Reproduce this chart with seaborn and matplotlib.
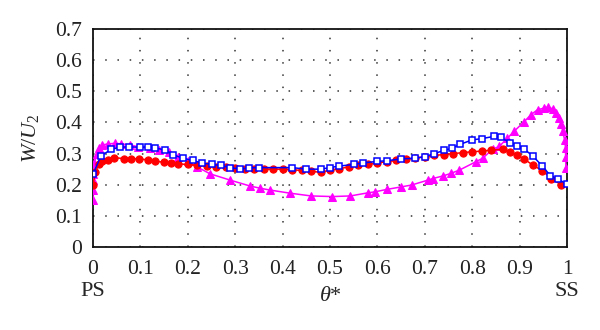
import matplotlib
matplotlib.use("Agg")
import matplotlib.pyplot as plt
import seaborn as sns
import pandas as pd

# ---- data ----
red_x = [0.0, 0.005, 0.012, 0.02, 0.032, 0.045, 0.065, 0.08, 0.096, 0.115, 0.13, 0.15, 0.165, 0.18,
         0.2, 0.22, 0.24, 0.26, 0.28, 0.3, 0.32, 0.34, 0.36, 0.38, 0.4, 0.42, 0.44, 0.46, 0.48,
         0.5, 0.52, 0.54, 0.56, 0.58, 0.6, 0.62, 0.64, 0.66, 0.68, 0.7, 0.72, 0.74, 0.76, 0.78,
         0.8, 0.82, 0.84, 0.865, 0.88, 0.894, 0.91, 0.928, 0.948, 0.967, 0.987]
red_y = [0.20, 0.24, 0.265, 0.275, 0.28, 0.287, 0.284, 0.284, 0.283, 0.28, 0.276, 0.272, 0.27, 0.267,
         0.265, 0.262, 0.26, 0.258, 0.256, 0.254, 0.252, 0.251, 0.25, 0.25, 0.25, 0.248, 0.246, 0.243, 0.24,
         0.247, 0.252, 0.257, 0.262, 0.266, 0.27, 0.274, 0.278, 0.282, 0.286, 0.29, 0.294, 0.297, 0.30, 0.303,
         0.306, 0.308, 0.311, 0.314, 0.305, 0.296, 0.282, 0.263, 0.245, 0.22, 0.20]

blue_x = [0.0, 0.017, 0.039, 0.057, 0.075, 0.1, 0.115, 0.13, 0.152, 0.169, 0.19, 0.21, 0.23, 0.25,
          0.27, 0.29, 0.31, 0.33, 0.35, 0.42, 0.45, 0.48, 0.5, 0.52, 0.55, 0.57, 0.6, 0.62, 0.65,
          0.68, 0.7, 0.72, 0.74, 0.757, 0.775, 0.8, 0.82, 0.845, 0.86, 0.88, 0.895, 0.91, 0.928,
          0.948, 0.965, 0.982, 1.0]
blue_y = [0.234, 0.293, 0.314, 0.32, 0.322, 0.32, 0.322, 0.318, 0.312, 0.296, 0.285, 0.278, 0.27, 0.265,
          0.262, 0.255, 0.25, 0.254, 0.255, 0.255, 0.25, 0.25, 0.255, 0.26, 0.265, 0.27, 0.275, 0.277, 0.283,
          0.285, 0.29, 0.30, 0.31, 0.317, 0.33, 0.344, 0.348, 0.355, 0.352, 0.335, 0.325, 0.314, 0.292,
          0.26, 0.229, 0.217, 0.202]

mag_x = [0.0, 0.0, 0.0, 0.0, 0.003, 0.008, 0.013, 0.02, 0.032, 0.046, 0.06, 0.078, 0.095, 0.12, 0.14,
         0.16, 0.18, 0.2, 0.22, 0.247, 0.289, 0.331, 0.352, 0.373, 0.415, 0.46, 0.505, 0.543, 0.58,
         0.594, 0.62, 0.65, 0.672, 0.707, 0.717, 0.738, 0.756, 0.773, 0.808, 0.822, 0.843, 0.857,
         0.874, 0.888, 0.91, 0.924, 0.938, 0.952, 0.96, 0.97, 0.977, 0.983, 0.988, 0.991, 0.995,
         0.997, 0.997, 0.998]
mag_y = [0.151, 0.183, 0.215, 0.235, 0.27, 0.30, 0.317, 0.328, 0.331, 0.333, 0.331, 0.328, 0.322, 0.317, 0.312,
         0.305, 0.29, 0.275, 0.257, 0.235, 0.215, 0.196, 0.189, 0.183, 0.173, 0.164, 0.162, 0.164, 0.174,
         0.177, 0.185, 0.193, 0.199, 0.215, 0.22, 0.228, 0.237, 0.247, 0.274, 0.285, 0.314, 0.323,
         0.349, 0.371, 0.403, 0.425, 0.441, 0.446, 0.45, 0.443, 0.43, 0.414, 0.396, 0.371, 0.344,
         0.317, 0.29, 0.253]

x_ticks = [0, 0.1, 0.2, 0.3, 0.4, 0.5, 0.6, 0.7, 0.8, 0.9, 1.0]
x_tick_labels = ["0", "0.1", "0.2", "0.3", "0.4", "0.5", "0.6", "0.7", "0.8", "0.9", "1"]
y_ticks = [0, 0.1, 0.2, 0.3, 0.4, 0.5, 0.6, 0.7]
y_tick_labels = ["0", "0.1", "0.2", "0.3", "0.4", "0.5", "0.6", "0.7"]

sns.set_style("white")
plt.rcParams["font.family"] = ["Liberation Serif", "DejaVu Serif"]
plt.rcParams["mathtext.fontset"] = "custom"
plt.rcParams["mathtext.rm"] = "Liberation Serif"
plt.rcParams["mathtext.it"] = "Liberation Serif:italic"

fig = plt.figure(figsize=(6.0, 3.3), dpi=100)
ax = fig.add_axes([0.155, 0.2515, 0.79, 0.6605])

df_r = pd.DataFrame({"x": red_x, "y": red_y})
df_b = pd.DataFrame({"x": blue_x, "y": blue_y})
df_m = pd.DataFrame({"x": mag_x, "y": mag_y})

sns.lineplot(data=df_m, x="x", y="y", ax=ax, sort=False, estimator=None, color="#ff00ff",
             lw=1.1, marker="^", markersize=5.5, markeredgecolor="#ff00ff", zorder=3)
sns.lineplot(data=df_r, x="x", y="y", ax=ax, sort=False, estimator=None, color="#ff0000",
             lw=1.1, marker="o", markersize=5.2, markeredgecolor="#ff0000", zorder=4)
sns.lineplot(data=df_b, x="x", y="y", ax=ax, sort=False, estimator=None, color="#0000ff",
             lw=1.1, marker="s", markersize=4.3, markerfacecolor="white", markeredgecolor="#0000ff",
             markeredgewidth=1.1, zorder=5)

ax.set_xlim(0, 1)
ax.set_ylim(0, 0.7)
ax.set_xticks(x_ticks)
ax.set_xticklabels(x_tick_labels)
ax.set_yticks(y_ticks)
ax.set_yticklabels(y_tick_labels)
ax.tick_params(axis="both", labelsize=15.5, length=0, colors="#222222")
ax.tick_params(axis="x", pad=9)
ax.tick_params(axis="y", pad=8)
ax.grid(True, color="#333333", linestyle=(0, (1, 7)), linewidth=1.1)
ax.set_axisbelow(True)
for s in ax.spines.values():
    s.set_color("#111111")
    s.set_linewidth(1.3)

ax.set_xlabel(r"$\theta$*", fontsize=16, labelpad=6)
ax.set_ylabel(r"$W/U_2$", fontsize=16, labelpad=10)

fig.text(93 / 600, 1 - 292 / 330, "PS", fontsize=16, ha="center", va="center")
fig.text(567 / 600, 1 - 292 / 330, "SS", fontsize=16, ha="center", va="center")

fig.savefig("out.png", dpi=100)
